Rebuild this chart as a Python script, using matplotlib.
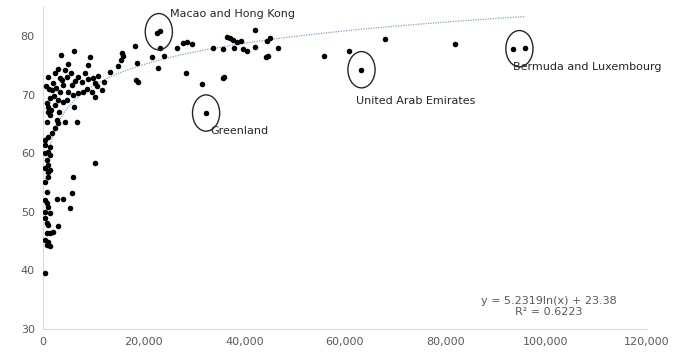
import numpy as np
import matplotlib
matplotlib.use('Agg')
import matplotlib.pyplot as plt
from matplotlib.patches import Ellipse
from matplotlib.ticker import FuncFormatter

# GDP per capita (thousands) and life expectancy
gdp_k = [
    22.7, 23.3, 23.3, 24.1, 22.9, 21.7, 18.3, 18.7, 18.5, 18.9, 15.7, 15.9, 15.5, 14.9, 13.3, 12.1,
    26.7, 27.9, 28.7, 29.5, 28.5, 31.6, 32.4, 33.8, 35.8, 36.0, 35.8, 36.6, 37.2, 37.8, 38.6, 39.4,
    38.0, 39.8, 40.6, 42.2, 42.2, 44.6, 45.2, 44.4, 44.8, 46.6, 55.9, 60.9, 63.3, 67.9, 81.8, 93.5, 95.9,
    3.6, 6.2, 9.4, 9.0, 5.0, 3.0, 1.0, 2.4, 4.4, 5.6, 3.4, 4.8, 7.0, 8.4, 10.0, 2.0, 4.0, 5.8, 7.8,
    10.3, 1.8, 3.4, 5.0, 7.0, 9.8, 11.7, 1.4, 3.0, 4.8, 10.3, 1.0, 2.4, 6.2,
    0.6, 1.2, 2.6, 3.8, 6.4, 8.8, 9.0, 2.2, 4.0, 6.0, 0.8, 1.6, 3.2, 8.0, 10.8, 11.0,
    0.8, 4.4, 6.8, 1.0, 1.4, 2.8, 3.0, 2.4, 1.8, 1.0, 0.4, 0.4, 1.4, 1.0, 0.4, 1.4, 0.8, 1.0, 0.4,
    1.4, 10.3, 1.0, 1.0, 6.0, 0.4, 0.8, 5.8, 2.8, 4.0, 0.4, 5.4, 0.8, 1.0, 0.4, 1.4, 0.4, 0.8, 1.0,
    3.0, 2.0, 0.8, 1.4, 0.4, 1.0, 0.8, 1.4, 0.4,
]
life_exp = [
    80.6, 80.9, 78.0, 76.7, 74.6, 76.5, 78.4, 75.5, 72.6, 72.2, 77.2, 76.7, 76.0, 75.0, 73.9, 72.2,
    78.0, 78.9, 79.1, 78.7, 73.8, 71.9, 66.9, 78.0, 77.9, 73.1, 72.9, 79.9, 79.7, 79.4, 79.1, 79.2,
    78.0, 77.9, 77.5, 81.1, 78.2, 79.2, 79.7, 76.5, 76.7, 78.0, 76.7, 77.5, 74.3, 79.6, 78.7, 77.9, 78.0,
    76.8, 77.5, 76.4, 75.1, 75.3, 74.4, 73.1, 73.8, 74.3, 73.8, 72.9, 73.1, 73.1, 73.8, 72.9, 72.1, 71.7, 71.7, 72.2,
    72.1, 70.9, 70.5, 70.5, 70.3, 70.5, 70.9, 69.5, 69.1, 69.1, 69.7, 67.9, 68.3, 67.9,
    71.5, 71.0, 71.2, 72.5, 72.4, 71.0, 72.8, 69.8, 68.8, 70.0, 68.6, 67.4, 67.0, 70.5, 71.6, 73.2,
    65.4, 65.4, 65.4, 67.1, 66.6, 65.7, 65.2, 64.4, 63.5, 62.8, 62.3, 61.5, 61.1, 60.3, 60.1, 59.7, 58.9, 58.0, 57.5,
    57.2, 58.4, 56.8, 56.0, 56.0, 55.1, 53.4, 53.2, 52.2, 52.2, 52.1, 50.7, 51.5, 50.9, 50.0, 49.8, 49.0, 48.1, 47.8,
    47.6, 46.6, 46.4, 46.4, 45.2, 44.9, 44.4, 44.2, 39.6,
]

# highlighted countries: label, circle centre (gdp_k, life_exp), label position
highlights = [
    ('Macao and Hong Kong', (23.0, 80.8), (25.3, 83.8)),
    ('Greenland', (32.4, 66.9), (33.2, 63.8)),
    ('United Arab Emirates', (63.3, 74.3), (62.3, 68.9)),
    ('Bermuda and Luxembourg', (94.7, 77.9), (93.5, 74.8)),
]

# Excel log trendline
a, b = 5.2319, 23.38

x = np.array(gdp_k) * 1000
y = np.array(life_exp)

fig, ax = plt.subplots(figsize=(6.85, 3.56), dpi=100)
fig.subplots_adjust(left=0.063, right=0.944, bottom=0.076, top=0.98)

ax.scatter(x, y, s=16, color='black', zorder=3, linewidths=0)

xt = np.linspace(x.min(), x.max(), 400)
ax.plot(xt, a * np.log(xt) + b, linestyle=(0, (1, 1)), color='#7aa6d6', linewidth=0.9, zorder=2)

for label, (cx, cy), (tx, ty) in highlights:
    ax.add_patch(Ellipse((cx * 1000, cy), width=5400, height=6.2, fill=False,
                         edgecolor='#262626', linewidth=1.0, zorder=4))
    ax.text(tx * 1000, ty, label, fontsize=8, color='#262626', va='center', ha='left')

ax.text(100500, 33.8, 'y = 5.2319ln(x) + 23.38\nR² = 0.6223', fontsize=8, color='#595959',
        ha='center', va='center', linespacing=1.1)

ax.set_xlim(0, 120000)
ax.set_ylim(30, 85)
ax.set_xticks(np.arange(0, 120001, 20000))
ax.set_yticks(np.arange(30, 81, 10))
ax.xaxis.set_major_formatter(FuncFormatter(lambda v, p: f'{int(v):,}'))

for side in ['top', 'right']:
    ax.spines[side].set_visible(False)
for side in ['left', 'bottom']:
    ax.spines[side].set_color('#d9d9d9')
ax.tick_params(length=0, labelsize=8, labelcolor='#595959', pad=6)

plt.savefig('out.png', dpi=100)
